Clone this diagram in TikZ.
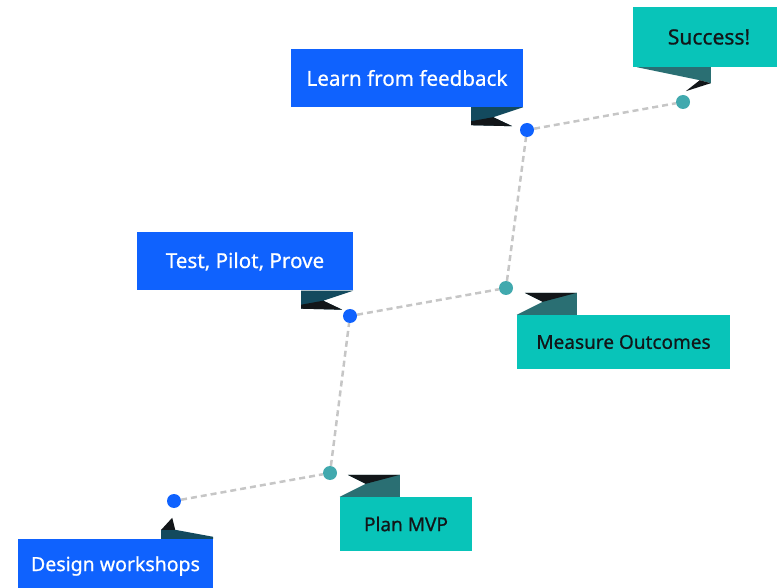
\documentclass[tikz,border=0pt]{standalone}
\usepackage{fontspec}
\setmainfont{Noto Sans}
\newfontfamily\labelfont{Noto Sans}[FakeBold=0.7]
\usetikzlibrary{calc}

\definecolor{ibmblue}{HTML}{0F62FE}
\definecolor{ibmteal}{HTML}{08C4B9}
\definecolor{dotteal}{HTML}{41A9AE}
\definecolor{foldnavy}{HTML}{134A5E}
\definecolor{foldteal}{HTML}{2A6F73}
\definecolor{foldblack}{HTML}{121619}
\definecolor{pathgray}{HTML}{C6C6C6}

\tikzset{
	bluebox/.style={fill=ibmblue, text=white, minimum height=58pt, inner sep=0pt,
		font=\labelfont\fontsize{20.6}{22}\selectfont},
	tealbox/.style={fill=ibmteal, text=foldblack, minimum height=54pt, inner sep=0pt,
		font=\labelfont\fontsize{19}{22}\selectfont},
	bluedot/.style={circle, fill=ibmblue, minimum size=14pt, inner sep=0pt},
	tealdot/.style={circle, fill=dotteal, minimum size=14pt, inner sep=0pt},
	trail/.style={pathgray, line width=2.5pt, dash pattern=on 6pt off 4pt}
}

\newcommand{\bluefold}[1]{
	\begin{scope}[shift={(#1.south east)}]
		\fill[foldnavy] (-52,0) -- (0,0) -- (-30,10) -- (-11,19) -- (-52,18) -- cycle;
		\fill[foldblack] (-52,14) -- (-30,10) -- (-11,19) -- (-52,18) -- cycle;
	\end{scope}
}
\newcommand{\tealfold}[1]{
	\begin{scope}[shift={(#1.north west)}]
		\fill[foldteal] (8,-22) -- (60,-22) -- (60,0) -- (0,0) -- (26,-13) -- cycle;
		\fill[foldblack] (8,-22) -- (60,-22) -- (26,-13) -- cycle;
	\end{scope}
}

\begin{document}
\begin{tikzpicture}[x=1pt, y=-1pt]

	\useasboundingbox (0,0) rectangle (777,588);

	% milestones
	\node[bluedot] (d1) at (174,501) {};
	\node[tealdot] (d2) at (330,473) {};
	\node[bluedot] (d3) at (350,316) {};
	\node[tealdot] (d4) at (506,288) {};
	\node[bluedot] (d5) at (527,130) {};
	\node[tealdot] (d6) at (683,102) {};

	\draw[trail] (d1) -- (d2) -- (d3) -- (d4) -- (d5) -- (d6);

	% labels
	\node[bluebox, minimum width=232pt] (learn) at (407,78) {Learn from feedback};
	\bluefold{learn}

	\node[bluebox, minimum width=216pt] (test) at (245,261.5) {Test, Pilot, Prove};
	\bluefold{test}

	\node[tealbox, minimum width=213pt] (measure) at (623.5,342) {Measure Outcomes};
	\tealfold{measure}

	\node[tealbox, minimum width=132pt] (plan) at (406,524) {Plan MVP};
	\tealfold{plan}

	\node[tealbox, minimum width=152pt, minimum height=60pt,
		font=\labelfont\fontsize{21}{22}\selectfont] (success) at (709,37) {Success!};
	\begin{scope}[shift={(success.south west)}]
		\fill[foldteal] (4,0) -- (78,0) -- (78,16) -- (67,13) -- cycle;
		\fill[foldblack] (67,13) -- (78,16) -- (53,24) -- cycle;
	\end{scope}

	\node[bluebox, minimum width=195pt, minimum height=54pt,
		font=\labelfont\fontsize{19.5}{22}\selectfont] (design) at (115.5,566) {Design workshops};
	\begin{scope}[shift={(design.north east)}]
		\fill[foldnavy] (-52,-9) -- (-38,-9) -- (0,-2) -- (0,0) -- (-52,0) -- cycle;
		\fill[foldblack] (-52,-9) -- (-41,-21) -- (-38,-9) -- cycle;
	\end{scope}

\end{tikzpicture}
\end{document}
